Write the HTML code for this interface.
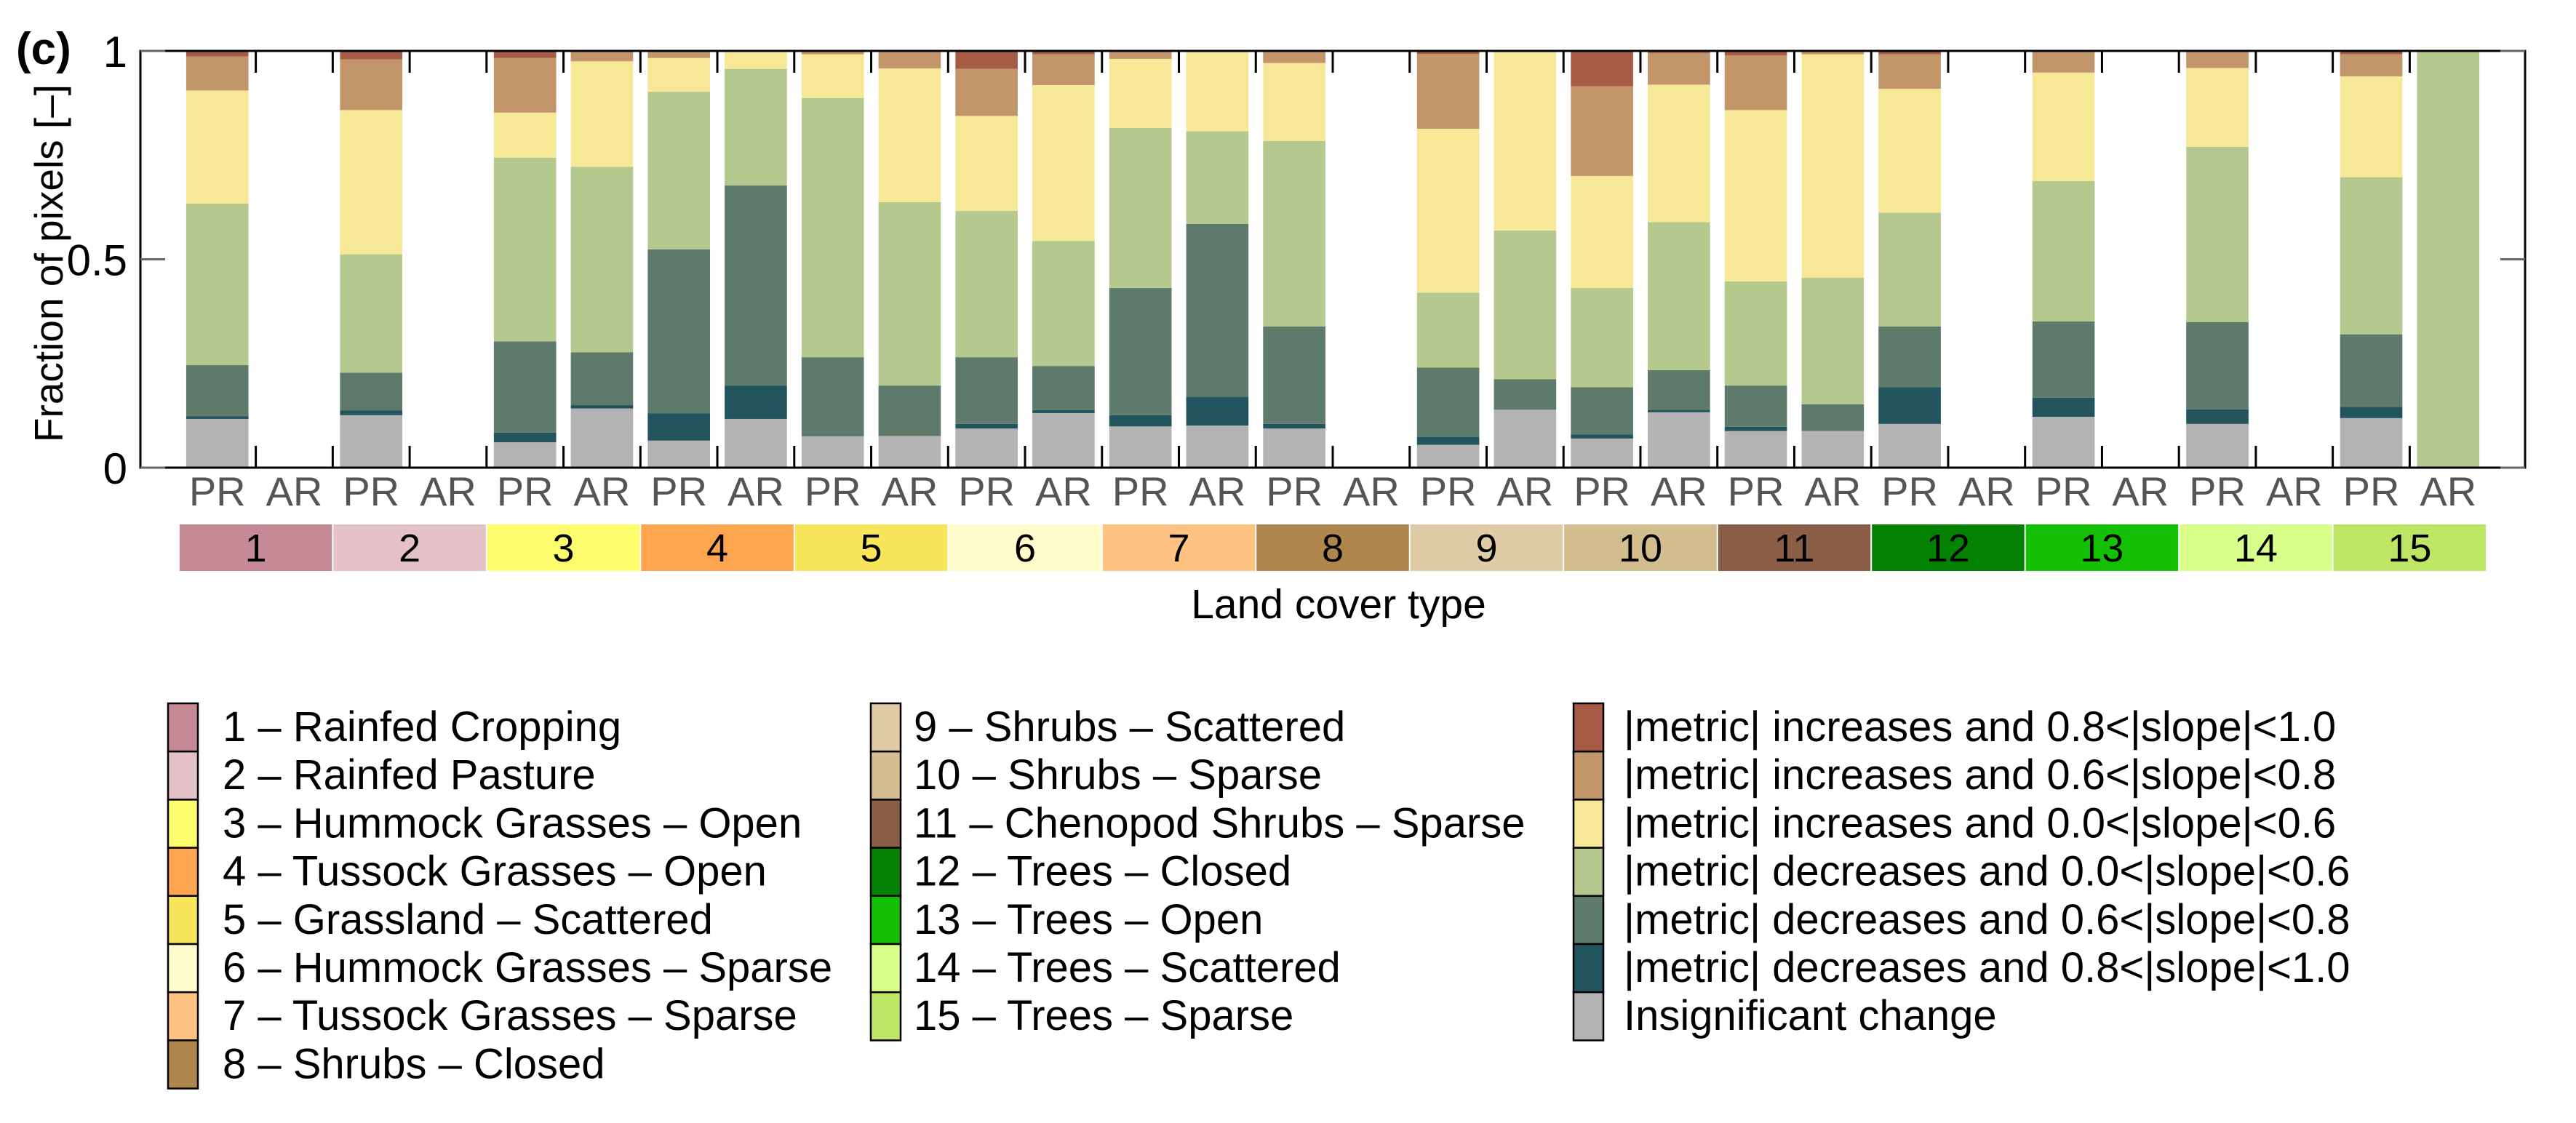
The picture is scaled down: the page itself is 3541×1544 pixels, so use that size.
<!DOCTYPE html>
<html><head><meta charset="utf-8"><style>
html,body{margin:0;padding:0;background:#fff;}
svg{display:block;font-family:"Liberation Sans",sans-serif;}
</style></head><body>
<svg id="chart" width="3541" height="1544" viewBox="0 0 3541 1544" xmlns="http://www.w3.org/2000/svg">
<text x="22" y="88" font-size="62" font-weight="bold" fill="#000">(c)</text>
<text transform="translate(86,362) rotate(-90)" text-anchor="middle" font-size="55" fill="#000">Fraction of pixels [–]</text>
<text x="1840" y="850" text-anchor="middle" font-size="57" fill="#000">Land cover type</text>
<g id="bars"></g><g id="axes"></g><g id="strip"></g><g id="legend"></g>
</svg>
<script>
const categories=["PR","AR","PR","AR","PR","AR","PR","AR","PR","AR","PR","AR","PR","AR","PR","AR","PR","AR","PR","AR","PR","AR","PR","AR","PR","AR","PR","AR","PR","AR"];
const insignificant=[.117,0,.126,0,.061,.142,.065,.117,.076,.076,.094,.131,.099,.101,.094,0,.055,.139,.070,.133,.088,.088,.105,0,.122,0,.105,0,.119,0];
const dec08=[.006,0,.011,0,.023,.008,.065,.080,.002,0,.011,.007,.027,.069,.011,0,.019,0,.010,.006,.010,0,.088,0,.046,0,.035,0,.027,0];
const dec06=[.123,0,.091,0,.219,.127,.394,.480,.187,.121,.160,.106,.305,.415,.234,0,.166,.073,.113,.095,.099,.064,.146,0,.183,0,.209,0,.174,0];
const dec00=[.388,0,.284,0,.441,.445,.378,.280,.622,.440,.351,.300,.384,.222,.445,0,.180,.357,.238,.355,.250,.304,.273,0,.337,0,.421,0,.377,1];
const inc00=[.271,0,.346,0,.108,.253,.081,.041,.105,.321,.228,.374,.166,.190,.187,0,.393,.428,.269,.330,.411,.536,.297,0,.260,0,.189,0,.242,0];
const inc06=[.082,0,.122,0,.131,.023,.014,.002,.005,.042,.113,.074,.016,.003,.026,0,.180,.003,.215,.076,.131,.008,.083,0,.049,0,.038,0,.053,0];
const inc08=[.013,0,.020,0,.017,.002,.003,0,.003,0,.043,.008,.003,0,.003,0,.007,0,.085,.005,.011,0,.008,0,.003,0,.003,0,.008,0];
const yTicks=[0,0.5,1];
const yTickLabels=["0","0.5","1"];
const classNums=["1","2","3","4","5","6","7","8","9","10","11","12","13","14","15"];
const classNames=["Rainfed Cropping","Rainfed Pasture","Hummock Grasses – Open","Tussock Grasses – Open","Grassland – Scattered","Hummock Grasses – Sparse","Tussock Grasses – Sparse","Shrubs – Closed","Shrubs – Scattered","Shrubs – Sparse","Chenopod Shrubs – Sparse","Trees – Closed","Trees – Open","Trees – Scattered","Trees – Sparse"];
const classColors=["#c58a95","#e3c1c6","#fefd6d","#fda54f","#f8e65a","#fefcca","#fec283","#ae864e","#dfcba5","#d2bd8f","#8b5e48","#038203","#14c004","#d8ff8a","#bce663"];
const seriesLabels=["Insignificant change","|metric| decreases and 0.8<|slope|<1.0","|metric| decreases and 0.6<|slope|<0.8","|metric| decreases and 0.0<|slope|<0.6","|metric| increases and 0.0<|slope|<0.6","|metric| increases and 0.6<|slope|<0.8","|metric| increases and 0.8<|slope|<1.0"];
const seriesColors=["#b3b3b3","#21545d","#5d7a6b","#b5c98e","#f7e898","#c2956a","#a65c44"];
const series=[insignificant,dec08,dec06,dec00,inc00,inc06,inc08];
const NS="http://www.w3.org/2000/svg";
const L=193,R=3471,T=70,B=643,N=31;
const xs=v=>L+v*(R-L)/N;
const ys=v=>B-v*(B-T);
function mk(tag,attrs,parent){const e=document.createElementNS(NS,tag);for(const k in attrs)e.setAttribute(k,attrs[k]);parent.appendChild(e);return e;}
const gb=document.getElementById('bars');
const bw=0.81*(R-L)/N;
categories.forEach((c,i)=>{
  let cum=0;
  series.forEach((s,j)=>{
    const v=s[i]; if(v<=0)return;
    const r=mk('rect',{x:xs(i+1)-bw/2,y:ys(cum+v),width:bw,height:ys(cum)-ys(cum+v),fill:seriesColors[j]},gb);
    
    
    cum+=v;
  });
  const t=mk('text',{x:xs(i+1),y:695,'text-anchor':'middle','font-size':56,fill:'#555'},gb);
  t.textContent=c;
  
  
});
const ga=document.getElementById('axes');
const frame=mk('rect',{x:L,y:T,width:R-L,height:B-T,fill:'none',stroke:'#000','stroke-width':3},ga);


for(let k=1;k<30;k++){
  const x=xs(k+0.5);
  const a=mk('line',{x1:x,x2:x,y1:B,y2:B-30,stroke:'#000','stroke-width':3},ga);
  
  
  const b=mk('line',{x1:x,x2:x,y1:T,y2:T+30,stroke:'#000','stroke-width':3},ga);
  
  
}
yTicks.forEach((v,i)=>{
  const l=mk('line',{x1:L,x2:L+34,y1:ys(v),y2:ys(v),stroke:'#666','stroke-width':3},ga);
  
  
  const l2=mk('line',{x1:R,x2:R-34,y1:ys(v),y2:ys(v),stroke:'#666','stroke-width':3},ga);
  
  
  const t=mk('text',{x:L-18,y:ys(v)+22,'text-anchor':'end','font-size':60,fill:'#000'},ga);
  t.textContent=yTickLabels[i];
  
  
});
const gs=document.getElementById('strip');
classNums.forEach((n,i)=>{
  const x0=xs(2*i+0.5),x1=xs(2*i+2.5);
  const r=mk('rect',{x:x0+1,y:721,width:x1-x0-2,height:64,fill:classColors[i]},gs);
  
  
  const t=mk('text',{x:(x0+x1)/2,y:772,'text-anchor':'middle','font-size':54,fill:'#000'},gs);
  t.textContent=n;
  
  
});
const gl=document.getElementById('legend');
const rowH=66.2,top0=967;
function entry(col,row,color,label,xSw,xTx){
  const y=top0+row*rowH;
  const r=mk('rect',{x:xSw,y:y,width:41,height:rowH,fill:color,stroke:'#000','stroke-width':2.5},gl);
  
  
  const t=mk('text',{x:xTx,y:y+52,'font-size':58,fill:'#000'},gl);
  t.textContent=label;
  
  
}
for(let i=0;i<8;i++)entry(0,i,classColors[i],classNums[i]+" – "+classNames[i],231,306);
for(let i=8;i<15;i++)entry(1,i-8,classColors[i],classNums[i]+" – "+classNames[i],1197,1256);
for(let j=6;j>=0;j--)entry(2,6-j,seriesColors[j],seriesLabels[j],2163,2232);
</script>
</body></html>
